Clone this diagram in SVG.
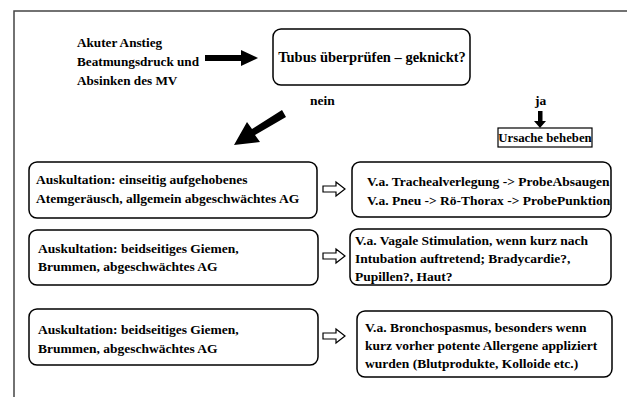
<svg xmlns="http://www.w3.org/2000/svg" width="627" height="397" viewBox="0 0 627 397">
<style>
.t{font-weight:bold;font-size:13.5px;fill:#000}
.box{fill:#fff;stroke:#000;stroke-width:1.5}
.frame{fill:none;stroke:#444;stroke-width:1.5}
.hollow{fill:#fff;stroke:#000;stroke-width:1.2}
</style>
<defs>
<path id="hollowArrow" d="M0,-3 L13,-3 L13,-7 L22,0 L13,7 L13,3 L0,3 Z" class="hollow"/>
</defs>
<rect width="627" height="397" fill="#fff"/>
<path class="frame" d="M14,397 L14,11 L627,11"/>
<g font-family="Liberation Serif, Times New Roman, serif">
<g id="start">
<text class="t" x="77" y="47" style="font-size:13.2px">Akuter Anstieg</text>
<text class="t" x="77" y="66" style="font-size:13.2px">Beatmungsdruck und</text>
<text class="t" x="77" y="85" style="font-size:13.2px">Absinken des MV</text>
</g>

<g id="tubus">
<rect class="box" x="273" y="29" width="197" height="56" rx="8"/>
<text class="t" x="372" y="62" text-anchor="middle" style="font-size:14.5px">Tubus überprüfen – geknickt?</text>
</g>

<g id="labels">
<text class="t" x="310" y="105">nein</text>
<text class="t" x="535" y="105">ja</text>
</g>

<g id="ursache">
<rect x="498" y="128" width="94" height="19" fill="#fff" stroke="#000" stroke-width="1.2"/>
<text class="t" x="545" y="142" text-anchor="middle" style="font-size:12.8px">Ursache beheben</text>
</g>

<g id="l1">
<rect class="box" x="29" y="162" width="288" height="56" rx="8"/>
<text class="t" x="36" y="184">Auskultation: einseitig  aufgehobenes</text>
<text class="t" x="36" y="203">Atemgeräusch, allgemein abgeschwächtes AG</text>
</g>
<g id="l2">
<rect class="box" x="29" y="230" width="289" height="55" rx="8"/>
<text class="t" x="38" y="253">Auskultation: beidseitiges Giemen,</text>
<text class="t" x="38" y="271">Brummen, abgeschwächtes AG</text>
</g>
<g id="l3">
<rect class="box" x="29" y="309" width="289" height="56" rx="8"/>
<text class="t" x="38" y="334">Auskultation: beidseitiges Giemen,</text>
<text class="t" x="38" y="353">Brummen, abgeschwächtes AG</text>
</g>

<g id="r1">
<rect class="box" x="352" y="162" width="259" height="55" rx="8"/>
<text class="t" x="367" y="186">V.a. Trachealverlegung -&gt; ProbeAbsaugen</text>
<text class="t" x="367" y="205">V.a. Pneu -&gt; Rö-Thorax -&gt; ProbePunktion</text>
</g>
<g id="r2">
<rect class="box" x="350" y="229" width="261" height="56" rx="8"/>
<text class="t" x="355" y="245">V.a. Vagale Stimulation, wenn kurz nach</text>
<text class="t" x="355" y="263">Intubation auftretend; Bradycardie?,</text>
<text class="t" x="355" y="281">Pupillen?, Haut?</text>
</g>
<g id="r3">
<rect class="box" x="357" y="311" width="255" height="66" rx="8"/>
<text class="t" x="365" y="332">V.a. Bronchospasmus, besonders wenn</text>
<text class="t" x="365" y="350">kurz vorher potente Allergene appliziert</text>
<text class="t" x="365" y="368">wurden (Blutprodukte, Kolloide etc.)</text>
</g>
</g>
<g id="connectors">
<path d="M205,55 L241,55 L241,50 L258,58 L241,66 L241,61 L205,61 Z" fill="#000"/>
<path d="M538,111 L542.5,111 L542.5,121 L546,121 L540,128 L534,121 L538,121 Z" fill="#000"/>
<path d="M286,117 L282,110 L252,129 L247,122 L234,145 L260,142 L255,135 Z" fill="#000"/>
<use href="#hollowArrow" x="323" y="189"/>
<use href="#hollowArrow" x="323" y="256"/>
<use href="#hollowArrow" x="323" y="336"/>
</g>
</svg>
